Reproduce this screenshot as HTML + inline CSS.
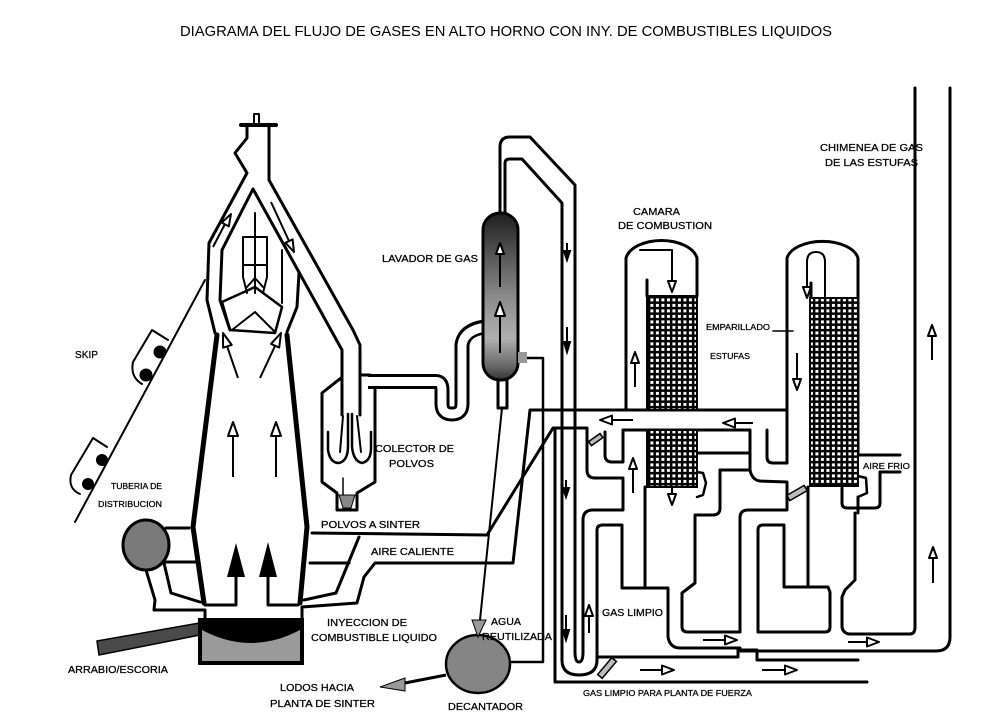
<!DOCTYPE html>
<html><head><meta charset="utf-8"><style>
html,body{margin:0;padding:0;background:#fff;}
svg{display:block;}
text{font-family:"Liberation Sans",Arial,sans-serif;fill:#000;}
</style></head><body>
<svg width="986" height="720" viewBox="0 0 986 720" xmlns="http://www.w3.org/2000/svg">
<defs>
<pattern id="grid" width="5.5" height="5.5" patternUnits="userSpaceOnUse"><rect width="5.5" height="5.5" fill="#000"/><rect x="1.4" y="1.4" width="3" height="3" fill="#fff"/></pattern>
<linearGradient id="lav" x1="0" y1="0" x2="0" y2="1">
<stop offset="0" stop-color="#1e1e1e"/><stop offset="0.2" stop-color="#4a4a4a"/><stop offset="0.5" stop-color="#8a8a8a"/><stop offset="0.75" stop-color="#b0b0b0"/><stop offset="0.92" stop-color="#666"/><stop offset="1" stop-color="#333"/>
</linearGradient>
</defs>

<!-- Title -->
<text x="180" y="36" font-size="15" textLength="652" lengthAdjust="spacingAndGlyphs">DIAGRAMA DEL FLUJO DE GASES EN ALTO HORNO CON INY. DE COMBUSTIBLES LIQUIDOS</text>

<g fill="none" stroke="#000" stroke-width="3" stroke-linejoin="round" stroke-linecap="round">
<!-- furnace top -->
<line x1="241" y1="125" x2="276" y2="125" stroke-width="4"/>
<rect x="254" y="114" width="5" height="11" stroke-width="2"/>
<path d="M247,127 V138 L235,153 L247,173 L209,243 L207,300 L215,333"/>
<path d="M269,127 V180 L353,330 L360,345 V415"/>
<path d="M230,330 L220,300 L222,250 L253,189 L342,350 V415"/>
<path d="M299,273 L297,307 L287,332"/>
<path d="M282,250 V303" stroke-width="2"/>
<!-- bell internals -->
<path d="M255,213 V293" stroke-width="2"/>
<path d="M243,237 H267 V277 L263,293 M243,237 V277 L247,293 M243,265 H267" stroke-width="2"/>
<path d="M247,287 L255,278 L263,287" stroke-width="2"/>
<path d="M222,302 L255,287 L282,307 L275,333 L230,330 Z" stroke-width="2.5"/>
<path d="M232,330 L255,312 L275,332" stroke-width="2"/>
<!-- thick walls -->
<path d="M217,335 L193,527 L204,603" stroke-width="5"/>
<path d="M287,335 L307,527 L300,603" stroke-width="5"/>
<!-- skip -->
<path d="M205,280 L75,522" stroke-width="2"/>
<path d="M152,330 L168,340 M152,330 L133,362 Q130,377 142,384" stroke-width="2"/>
<path d="M93,438 L107,447 M93,438 L71,475 Q68,489 80,494" stroke-width="2"/>
<!-- bustle / tuyeres -->
<path d="M166,528 H189 M166,562 H197"/>
<path d="M146,570 L155,600 L154,610 H205 V620"/>
<path d="M164,563 L171,593 L200,602"/>
<path d="M205,605 H236 V577 M298,605 H268 V577"/>
<!-- right of furnace / hot blast -->
<path d="M302,620 V607 L357,603 L364,577 L375,563 H513 L530,410 H787"/>
<path d="M304,600 L336,593 L359,537"/>
<path d="M310,563 H349"/>
<path d="M312,533 L487,535 L553,428 H587 V470 Q587,478 595,478 H623"/>
<!-- dust collector -->
<path d="M341,378 L322,393 V482 L337,493 V510 H357 V493 L375,482 V388"/>
<path d="M360,375 H370"/>
<path d="M328,432 V450 Q330,463 339,463 Q348,461 348,446 V414" stroke-width="2.5"/>
<path d="M343,416 L340,452" stroke-width="2"/>
<path d="M352,414 V446 Q353,461 362,463 Q371,461 371,448 V432" stroke-width="2.5"/>
<path d="M357,416 L361,452" stroke-width="2"/>
<path d="M343,478 V503" stroke-width="1.5"/>
</g>

<!-- U pipe collector -> lavador (double wall) -->
<path d="M368,381.5 H436 Q442,381.5 442,390 V404 Q442,414 452,414 Q462,414 462,404 V345 Q464,330 484,327" fill="none" stroke="#000" stroke-width="15" stroke-linejoin="round"/>
<path d="M368,381.5 H436 Q442,381.5 442,390 V404 Q442,414 452,414 Q462,414 462,404 V345 Q464,330 486,327" fill="none" stroke="#fff" stroke-width="9" stroke-linejoin="round"/>

<!-- fills -->
<ellipse cx="146" cy="545" rx="23" ry="25" fill="#7a7a7a" stroke="#000" stroke-width="3"/>
<circle cx="160" cy="352" r="6.5" fill="#000"/><circle cx="146" cy="375" r="6.5" fill="#000"/>
<circle cx="102" cy="460" r="6" fill="#000"/><circle cx="88" cy="484" r="6" fill="#000"/>
<polygon points="97,641 205,622 205,634 99,655" fill="#4a4a4a" stroke="#000" stroke-width="1.5"/>
<rect x="200" y="620" width="102" height="43" fill="#9a9a9a" stroke="#000" stroke-width="4"/>
<path d="M202,620 H300 V630 Q251,656 202,630 Z" fill="#000"/>
<polygon points="236,543 227,577 245,577" fill="#000"/>
<polygon points="268,542 259,577 277,577" fill="#000"/>
<polygon points="339,495 355,495 351,508 343,508" fill="#888" stroke="#000" stroke-width="1"/>

<!-- open arrows furnace -->
<g fill="#fff" stroke="#000" stroke-width="2" stroke-linejoin="round">
<line x1="233" y1="436" x2="233" y2="477"/><polygon points="233,422 228,436 238,436"/>
<line x1="276" y1="436" x2="276" y2="477"/><polygon points="276,422 271,436 281,436"/>
<line x1="213" y1="247" x2="225" y2="224"/><polygon points="231,214 228.8,226.4 221.7,222.6"/>
<line x1="271" y1="202" x2="289" y2="241"/><polygon points="294,252 292.6,239.4 285.4,242.8"/>
<line x1="238" y1="378" x2="227" y2="346"/><polygon points="223,333 231.7,344.9 223.1,347.7"/>
<line x1="260" y1="378" x2="275" y2="346"/><polygon points="281,333 279.2,347.6 271,343.8"/>
</g>

<!-- lavador -->
<rect x="483" y="213" width="35" height="167" rx="17" fill="url(#lav)" stroke="#000" stroke-width="3"/>
<g fill="none" stroke="#000" stroke-width="3" stroke-linejoin="round" stroke-linecap="round">
<path d="M498,380 V408 H507 V380"/>
<path d="M502,408 L480,620" stroke-width="2"/>
<path d="M520,358 H543 V662 H512" stroke-width="2.5"/>
<!-- clean gas pipe -->
<path d="M500,212 V147 Q500,137 510,137 H530 L575,185 V652 Q575,662 579,662 Q583,662 583,652 V520 Q583,510 593,510 H623 V480"/>
<path d="M505,212 V163 Q505,159 510,159 H522 L562,203 V660 Q562,675 579,675 Q597,675 597,660 V530 Q597,525 603,525 H622 V588 H668 V637 Q670,648 680,648 H740"/>
<path d="M555,428 V682 H867"/>
<!-- duct -->
<path d="M623,430 H750 V470 Q752,480 760,481 L787,482 V500"/>
<path d="M697,453 H750"/>
<path d="M720,470 H750"/>
<path d="M720,470 V508 Q720,515 713,515 H695 V583 L682,593 V627 Q682,632 688,632 H740"/>
<path d="M605,432 V455 Q605,462 612,462 H623 V430"/>
<path d="M645,487 V588"/>
<path d="M767,430 V457 Q767,463 773,463 H787"/>
<path d="M740,632 V518 Q740,510 748,510 H787 V500"/>
<path d="M758,632 V530 Q758,525 763,525 H784 V587 H828 L830,592 V627 Q830,632 825,632 H758"/>
<path d="M808,487 V587"/>
<path d="M858,497 V513 M855,513 V580 L845,590 L842,597 V627 Q843,633 849,634 H910 Q915,634 915,627 V88"/>
<path d="M950,88 V637 Q950,651 936,651 H740"/>
<path d="M597,657 H738 V650 H757 V660 H858"/>
<path d="M858,455 H900 M900,472 H880 V503 Q880,508 875,508 H847 Q842,508 842,503 V488"/>
<path d="M697,472 L703,473 L706,483 L703,495 L697,497" stroke-width="2.5"/>
<path d="M858,476 L866,478 L867,493 L858,497" stroke-width="2.5"/>
<!-- stoves -->
<path d="M626,410 V258 A36 21 0 0 1 697,258 V296"/>
<path d="M787,463 V258 A36 20 0 0 1 858,258 V455"/>
<path d="M647,280 V296 M811,283 V298"/>
<path d="M773,331 H793" stroke-width="1.5"/>
<path d="M640,250 H672 V281" stroke-width="2"/>
<path d="M807,290 V262 Q807,252 816,252 Q825,252 825,262 V297" stroke-width="2"/>
</g>
<rect x="647" y="296" width="50" height="114" fill="url(#grid)" stroke="#000" stroke-width="2"/>
<rect x="647" y="430" width="50" height="57" fill="url(#grid)" stroke="#000" stroke-width="2"/>
<rect x="810" y="298" width="48" height="188" fill="url(#grid)" stroke="#000" stroke-width="2"/>

<!-- valves & gray bits -->
<g fill="#bbb" stroke="#000" stroke-width="1.5">
<rect x="589" y="437" width="14" height="5" transform="rotate(-35 596 440)"/>
<rect x="787" y="490" width="20" height="6" transform="rotate(-30 797 493)"/>
<rect x="596" y="665" width="22" height="6" transform="rotate(-50 607 668)"/>
<rect x="518" y="352" width="9" height="11" fill="#999" stroke="none"/>
</g>
<ellipse cx="478" cy="664" rx="32" ry="29" fill="#858585" stroke="#000" stroke-width="2.5"/>
<path d="M446,675 L405,683" stroke="#000" stroke-width="3"/>
<polygon points="380,687 405,678 405,691" fill="#999" stroke="#000" stroke-width="1"/>
<polygon points="472,620 486,620 478,637" fill="#999" stroke="#000" stroke-width="1"/>

<!-- flow arrows -->
<g fill="#fff" stroke="#000" stroke-width="2" stroke-linejoin="round">
<polygon points="672,292 668,281 676,281"/>
<line x1="635" y1="363" x2="635" y2="387"/><polygon points="635,352 631,363 639,363"/>
<line x1="633" y1="469" x2="633" y2="493"/><polygon points="633,458 629,469 637,469"/>
<line x1="672" y1="487" x2="672" y2="494"/><polygon points="672,505 668,494 676,494"/>
<polygon points="807,298 803,287 811,287"/>
<line x1="797" y1="353" x2="797" y2="379"/><polygon points="797,390 793,379 801,379"/>
<line x1="932" y1="336" x2="932" y2="360"/><polygon points="932,325 928,336 936,336"/>
<line x1="933" y1="558" x2="933" y2="583"/><polygon points="933,547 929,558 937,558"/>
<line x1="612" y1="420" x2="633" y2="420"/><polygon points="600,420 612,415.5 612,424.5"/>
<line x1="735" y1="423" x2="753" y2="423"/><polygon points="723,423 735,418.5 735,427.5"/>
<line x1="703" y1="640" x2="725" y2="640"/><polygon points="737,640 725,635.5 725,644.5"/>
<line x1="640" y1="670" x2="662" y2="670"/><polygon points="674,670 662,665.5 662,674.5"/>
<line x1="762" y1="670" x2="785" y2="670"/><polygon points="797,670 785,665.5 785,674.5"/>
<line x1="848" y1="642" x2="867" y2="642"/><polygon points="879,642 867,637.5 867,646.5"/>
<line x1="589" y1="616" x2="589" y2="633"/><polygon points="589,605 585,616 593,616"/>
<line x1="500" y1="254" x2="500" y2="287"/><polygon points="500,243 496,254 504,254"/>
<line x1="500" y1="316" x2="500" y2="353"/><polygon points="500,302 495,316 505,316"/>
</g>
<g fill="#000" stroke="#000" stroke-width="2">
<line x1="567" y1="243" x2="567" y2="252"/><polygon points="567,260 564,251 570,251"/>
<line x1="567" y1="327" x2="567" y2="343"/><polygon points="567,352 564,342 570,342"/>
<line x1="566" y1="480" x2="566" y2="489"/><polygon points="566,497 563,488 569,488"/>
<line x1="566" y1="615" x2="566" y2="631"/><polygon points="566,640 563,630 569,630"/>
</g>

<!-- labels -->
<g font-size="10" stroke="#000" stroke-width="0.25">
<text x="75" y="358" textLength="23" lengthAdjust="spacingAndGlyphs">SKIP</text>
<text x="111" y="489" font-size="8.5" textLength="51" lengthAdjust="spacingAndGlyphs">TUBERIA DE</text>
<text x="98" y="507" font-size="8.5" textLength="64" lengthAdjust="spacingAndGlyphs">DISTRIBUCION</text>
<text x="68" y="673" textLength="100" lengthAdjust="spacingAndGlyphs">ARRABIO/ESCORIA</text>
<text x="321" y="528" textLength="99" lengthAdjust="spacingAndGlyphs">POLVOS A SINTER</text>
<text x="371" y="555" textLength="83" lengthAdjust="spacingAndGlyphs">AIRE CALIENTE</text>
<text x="375" y="452" textLength="79" lengthAdjust="spacingAndGlyphs">COLECTOR DE</text>
<text x="389" y="467" textLength="45" lengthAdjust="spacingAndGlyphs">POLVOS</text>
<text x="327" y="626" textLength="80" lengthAdjust="spacingAndGlyphs">INYECCION DE</text>
<text x="311" y="641" textLength="126" lengthAdjust="spacingAndGlyphs">COMBUSTIBLE LIQUIDO</text>
<text x="491" y="625" textLength="30" lengthAdjust="spacingAndGlyphs">AGUA</text>
<text x="482" y="640" textLength="70" lengthAdjust="spacingAndGlyphs">REUTILIZADA</text>
<text x="280" y="691" textLength="74" lengthAdjust="spacingAndGlyphs">LODOS HACIA</text>
<text x="270" y="707" textLength="105" lengthAdjust="spacingAndGlyphs">PLANTA DE SINTER</text>
<text x="448" y="710" textLength="75" lengthAdjust="spacingAndGlyphs">DECANTADOR</text>
<text x="382" y="262" textLength="96" lengthAdjust="spacingAndGlyphs">LAVADOR DE GAS</text>
<text x="633" y="215" textLength="47" lengthAdjust="spacingAndGlyphs">CAMARA</text>
<text x="618" y="229" textLength="94" lengthAdjust="spacingAndGlyphs">DE COMBUSTION</text>
<text x="706" y="330" font-size="8.5" textLength="64" lengthAdjust="spacingAndGlyphs">EMPARILLADO</text>
<text x="710" y="359" font-size="8.5" textLength="40" lengthAdjust="spacingAndGlyphs">ESTUFAS</text>
<text x="820" y="151" textLength="103" lengthAdjust="spacingAndGlyphs">CHIMENEA DE GAS</text>
<text x="825" y="166" textLength="93" lengthAdjust="spacingAndGlyphs">DE LAS ESTUFAS</text>
<text x="863" y="469" font-size="8.5" textLength="47" lengthAdjust="spacingAndGlyphs">AIRE FRIO</text>
<text x="602" y="616" textLength="61" lengthAdjust="spacingAndGlyphs">GAS LIMPIO</text>
<text x="583" y="696" font-size="8.5" textLength="169" lengthAdjust="spacingAndGlyphs">GAS LIMPIO PARA PLANTA DE FUERZA</text>
</g>
</svg>
</body></html>
